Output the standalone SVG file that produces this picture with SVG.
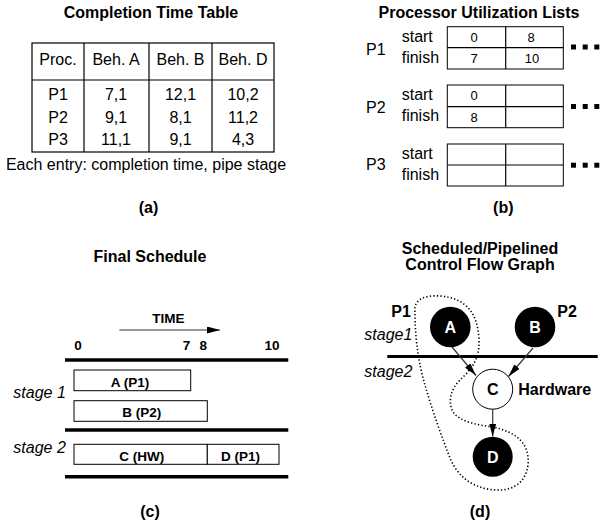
<svg xmlns="http://www.w3.org/2000/svg" width="602" height="527" viewBox="0 0 602 527">
<style>
text{font-family:"Liberation Sans",Arial,sans-serif;fill:#000}
.t{font-size:16px;font-weight:bold;text-anchor:middle}
.r{font-size:16px;text-anchor:middle}
.rl{font-size:16px}
.n{font-size:13px;text-anchor:middle}
.b{font-size:13.5px;font-weight:bold;text-anchor:middle}
.i{font-size:16px;font-style:italic}
.ln{stroke:#000;stroke-width:1.2;fill:none}
.box{stroke:#000;stroke-width:1;fill:#fff}
.thick{stroke:#000;stroke-width:3.5}
.dots{fill:#000}
.w{font-size:16px;font-weight:bold;text-anchor:middle;fill:#fff}
.edge{stroke:#333;stroke-width:1.2;fill:none;marker-end:url(#ah)}
</style>
<defs>
<marker id="ah" markerUnits="userSpaceOnUse" markerWidth="13" markerHeight="7" refX="13" refY="3.5" orient="auto">
<path d="M0,0 L13,3.5 L0,7 Z" fill="#000"/>
</marker>
</defs>

<g id="panel-a">
<text class="t" x="151" y="18">Completion Time Table</text>
<rect x="32" y="43" width="242" height="109" class="ln"/>
<line x1="32" y1="80" x2="274" y2="80" class="ln" stroke-width="1.5"/>
<line x1="84" y1="43" x2="84" y2="152" class="ln"/>
<line x1="149" y1="43" x2="149" y2="152" class="ln"/>
<line x1="212" y1="43" x2="212" y2="152" class="ln"/>
<text class="r" x="58" y="65">Proc.</text>
<text class="r" x="116" y="65">Beh. A</text>
<text class="r" x="180.5" y="65">Beh. B</text>
<text class="r" x="243" y="65">Beh. D</text>
<text class="r" x="58" y="100">P1</text>
<text class="r" x="116" y="100">7,1</text>
<text class="r" x="180.5" y="100">12,1</text>
<text class="r" x="243" y="100">10,2</text>
<text class="r" x="58" y="122.5">P2</text>
<text class="r" x="116" y="122.5">9,1</text>
<text class="r" x="180.5" y="122.5">8,1</text>
<text class="r" x="243" y="122.5">11,2</text>
<text class="r" x="58" y="145">P3</text>
<text class="r" x="116" y="145">11,1</text>
<text class="r" x="180.5" y="145">9,1</text>
<text class="r" x="243" y="145">4,3</text>
<text class="r" x="146" y="170">Each entry: completion time, pipe stage</text>
<text class="t" x="148.5" y="213">(a)</text>
</g>

<g id="panel-b">
<text class="t" x="479" y="18">Processor Utilization Lists</text>
<g id="list-p1">
<rect x="447.3" y="26.7" width="116" height="42.3" class="box"/>
<line x1="447.3" y1="47.7" x2="563.3" y2="47.7" class="ln" stroke-width="1"/>
<line x1="505.7" y1="26.7" x2="505.7" y2="69" class="ln" stroke-width="1"/>
<text class="rl" x="366" y="55">P1</text>
<text class="rl" x="401.7" y="42.3">start</text>
<text class="rl" x="401.7" y="62.7">finish</text>
<text class="n" x="474" y="41.8">0</text>
<text class="n" x="531" y="41.8">8</text>
<text class="n" x="474" y="63">7</text>
<text class="n" x="532" y="63">10</text>
<rect class="dots" x="571" y="44.5" width="5" height="5"/>
<rect class="dots" x="582.7" y="44.5" width="5" height="5"/>
<rect class="dots" x="594.3" y="44.5" width="5" height="5"/>
</g>
<g id="list-p2">
<rect x="447.3" y="85" width="116" height="42.7" class="box"/>
<line x1="447.3" y1="106.7" x2="563.3" y2="106.7" class="ln" stroke-width="1"/>
<line x1="505.7" y1="85" x2="505.7" y2="127.7" class="ln" stroke-width="1"/>
<text class="rl" x="366" y="112.7">P2</text>
<text class="rl" x="401.7" y="100">start</text>
<text class="rl" x="401.7" y="120.7">finish</text>
<text class="n" x="474" y="100.2">0</text>
<text class="n" x="474" y="121.9">8</text>
<rect class="dots" x="571" y="104" width="5" height="5"/>
<rect class="dots" x="582.7" y="104" width="5" height="5"/>
<rect class="dots" x="594.3" y="104" width="5" height="5"/>
</g>
<g id="list-p3">
<rect x="447.3" y="144" width="116" height="42" class="box"/>
<line x1="447.3" y1="165" x2="563.3" y2="165" class="ln" stroke-width="1"/>
<line x1="505.7" y1="144" x2="505.7" y2="186" class="ln" stroke-width="1"/>
<text class="rl" x="366" y="170">P3</text>
<text class="rl" x="401.7" y="159.3">start</text>
<text class="rl" x="401.7" y="180">finish</text>
<rect class="dots" x="571" y="162.7" width="5" height="5"/>
<rect class="dots" x="582.7" y="162.7" width="5" height="5"/>
<rect class="dots" x="594.3" y="162.7" width="5" height="5"/>
</g>
<text class="t" x="503.3" y="213">(b)</text>
</g>

<g id="panel-c">
<text class="t" x="150" y="262.3">Final Schedule</text>
<text class="b" x="168.3" y="323.3">TIME</text>
<line x1="119.3" y1="330" x2="220" y2="330" stroke="#333" stroke-width="1" marker-end="url(#ah)"/>
<text class="b" x="78" y="350">0</text>
<text class="b" x="186.5" y="350">7</text>
<text class="b" x="203.3" y="350">8</text>
<text class="b" x="272" y="350">10</text>
<line x1="65" y1="360" x2="288.3" y2="360" class="thick"/>
<line x1="65" y1="430" x2="288.3" y2="430" class="thick"/>
<line x1="65" y1="476.7" x2="288.3" y2="476.7" class="thick"/>
<text class="i" x="13.3" y="398">stage 1</text>
<text class="i" x="13.3" y="452.5">stage 2</text>
<g id="task-a">
<rect x="74" y="370" width="116.7" height="20.7" class="box"/>
<text class="b" x="130" y="386.5">A (P1)</text>
</g>
<g id="task-b">
<rect x="74" y="400.7" width="133.3" height="20.6" class="box"/>
<text class="b" x="141.7" y="417">B (P2)</text>
</g>
<g id="task-c">
<rect x="74" y="444.3" width="133.3" height="20" class="box"/>
<text class="b" x="141.7" y="460.5">C (HW)</text>
</g>
<g id="task-d">
<rect x="207.3" y="444.3" width="71.7" height="20" class="box"/>
<text class="b" x="240.5" y="460.5">D (P1)</text>
</g>
<text class="t" x="150" y="517">(c)</text>
</g>

<g id="panel-d">
<text class="t" x="480" y="254">Scheduled/Pipelined</text>
<text class="t" x="480" y="269.5">Control Flow Graph</text>
<line x1="387.3" y1="356.5" x2="597.7" y2="356.5" stroke="#000" stroke-width="3.2"/>
<path d="M415,312 C413,298 428,295 440,296 C465,298 478,312 479,340 C480,362 468,372 460,380 C450,390 448,402 453,412 C460,422 478,425 493,427 C515,432 530,442 528,465 C526,483 512,491 496,490 C475,489 458,478 450,458 C443,440 432,410 425,385 C419,365 415,340 415,312 Z" fill="none" stroke="#000" stroke-width="1.6" stroke-dasharray="1.3 2.2"/>
<text class="t" x="401" y="317.3">P1</text>
<text class="t" x="567" y="317.3">P2</text>
<text class="i" x="364.3" y="340">stage1</text>
<text class="i" x="364.3" y="376.7">stage2</text>
<g id="connectors">
<line x1="452" y1="347" x2="476" y2="375.5" class="edge"/>
<line x1="533" y1="348" x2="508.5" y2="376.5" class="edge"/>
<line x1="492.7" y1="409.3" x2="492.7" y2="436.5" class="edge"/>
</g>
<g id="node-A">
<circle cx="450.3" cy="327" r="20.3" fill="#000"/>
<text class="w" x="450.3" y="332.8">A</text>
</g>
<g id="node-B">
<circle cx="535" cy="327" r="20.3" fill="#000"/>
<text class="w" x="535" y="332.8">B</text>
</g>
<g id="node-C">
<circle cx="492.7" cy="389.2" r="20" fill="#fff" stroke="#000" stroke-width="1"/>
<text class="t" x="492.7" y="395">C</text>
<text class="t" x="554.7" y="395" style="text-anchor:middle">Hardware</text>
</g>
<g id="node-D">
<circle cx="492.7" cy="456.7" r="20" fill="#000"/>
<text class="w" x="492.7" y="462.5">D</text>
</g>
<text class="t" x="480" y="517">(d)</text>
</g>
</svg>
